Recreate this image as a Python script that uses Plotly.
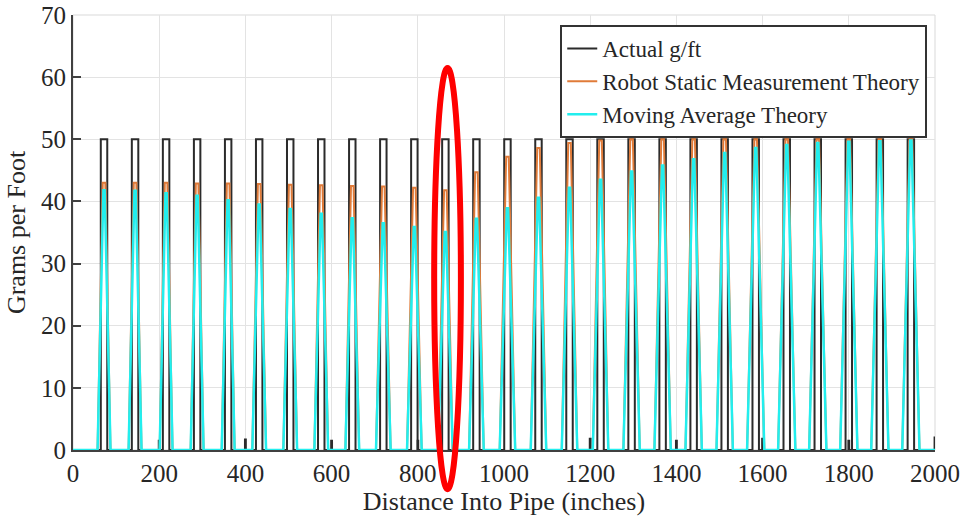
import plotly.graph_objects as go

# ---- data ----
peak_centers = [72, 144, 216, 288, 360, 432, 504, 576, 648, 720, 792, 864, 936, 1008,
                1080, 1152, 1224, 1296, 1368, 1440, 1512, 1584, 1656, 1728, 1800, 1872, 1944]
actual_peaks = [50] * 27
robot_static_peaks = [43.0, 43.0, 43.0, 42.9, 42.9, 42.8, 42.7, 42.6, 42.5, 42.4, 42.2, 41.8,
                      44.7, 47.2, 48.6, 49.4, 49.8, 50.0, 50.0, 50.0, 50.0, 50.0, 50.0, 50.0,
                      50.0, 50.0, 50.0]
moving_avg_peaks = [41.8, 41.7, 41.3, 40.9, 40.2, 39.5, 38.8, 38.0, 37.3, 36.5, 35.9, 35.1,
                    37.2, 38.9, 40.6, 42.2, 43.5, 44.8, 45.8, 46.8, 47.8, 48.6, 49.1, 49.4,
                    49.6, 49.7, 49.8]
base_halfwidth = [15, 15, 15, 15, 15, 16, 16, 16, 16, 17, 17, 17, 17, 18,
                  18, 18, 18, 19, 19, 19, 19, 20, 20, 20, 20, 20, 20]
pulse_halfwidth = 7.5
spike_positions = [200, 400, 600, 800, 1200, 1400, 1600, 1800, 2000]
spike_heights = [1.5, 1.7, 1.5, 1.5, 1.8, 1.5, 1.8, 1.5, 2.0]
x_ticks = [0, 200, 400, 600, 800, 1000, 1200, 1400, 1600, 1800, 2000]
y_ticks = [0, 10, 20, 30, 40, 50, 60, 70]

# ---- build series ----
events = []
for c, p in zip(peak_centers, actual_peaks):
    events.append((c - pulse_halfwidth, [(c - pulse_halfwidth, 0), (c - pulse_halfwidth, p),
                                         (c + pulse_halfwidth, p), (c + pulse_halfwidth, 0)]))
for s, h in zip(spike_positions, spike_heights):
    e = s + 1 if s < 2000 else s
    events.append((s - 1, [(s - 1, 0), (s - 1, h), (e, h), (e, 0)]))
events.sort(key=lambda e: e[0])
ax, ay = [0], [0]
for _, pts in events:
    for xx, yy in pts:
        ax.append(xx)
        ay.append(yy)
if ax[-1] < 2000:
    ax.append(2000)
    ay.append(0)

rx, ry = [0], [0]
for c, p, hw in zip(peak_centers, robot_static_peaks, base_halfwidth):
    rx += [c - hw, c - 3, c + 3, c + hw]
    ry += [0, p, p, 0]
rx.append(2000); ry.append(0)

mx, my = [0], [0]
for c, p, hw in zip(peak_centers, moving_avg_peaks, base_halfwidth):
    mx += [c - hw, c - 1.5, c + 1.5, c + hw]
    my += [0, p, p, 0]
mx.append(2000); my.append(0)

font_family = "Liberation Serif, Times New Roman, serif"

fig = go.Figure()
fig.add_trace(go.Scatter(x=ax, y=ay, mode="lines", name="Actual g/ft",
                         line=dict(color="#2b2b2b", width=2)))
fig.add_trace(go.Scatter(x=rx, y=ry, mode="lines", name="Robot Static Measurement Theory",
                         line=dict(color="#E07B39", width=2)))
fig.add_trace(go.Scatter(x=mx, y=my, mode="lines", name="Moving Average Theory",
                         line=dict(color="#22EEEE", width=2.5)))

# light box on top/right
fig.add_shape(type="rect", xref="paper", yref="paper", x0=0, x1=1, y0=0, y1=1,
              line=dict(color="#d9d9d9", width=1), layer="below")

# red highlight ellipse
fig.add_shape(type="circle", xref="x", yref="paper", x0=838, x1=900, y0=-0.09, y1=0.878,
              line=dict(color="#FF0000", width=6), layer="above")

fig.update_layout(
    width=963, height=518,
    margin=dict(l=73, r=28, t=15, b=68),
    paper_bgcolor="white", plot_bgcolor="white",
    font=dict(family=font_family, size=25, color="#262626"),
    showlegend=True,
    legend=dict(x=0.991, y=0.977, xanchor="right", yanchor="top",
                bgcolor="white", bordercolor="#333333", borderwidth=2,
                font=dict(family=font_family, size=23, color="#262626"),
                tracegroupgap=0, itemwidth=30),
)
fig.update_xaxes(range=[0, 2000], tickvals=x_ticks, showgrid=True, gridcolor="#e3e3e3",
                 gridwidth=1, zeroline=False, showline=True, linecolor="#404040", linewidth=1.5,
                 ticks="", tickfont=dict(size=25), automargin=False,
                 title=dict(text="Distance Into Pipe (inches)", font=dict(size=26), standoff=4))
fig.update_yaxes(range=[0, 70], tickvals=y_ticks, showgrid=True, gridcolor="#e3e3e3",
                 gridwidth=1, zeroline=False, showline=True, linecolor="#404040", linewidth=2,
                 ticks="inside", ticklen=8, tickwidth=2, tickcolor="#404040",
                 tickfont=dict(size=25), automargin=False,
                 title=dict(text="Grams per Foot", font=dict(size=26), standoff=8))

fig.write_html("out.html", config={"displayModeBar": False},
               post_script="document.body.style.margin='0';document.body.style.overflow='hidden';")
